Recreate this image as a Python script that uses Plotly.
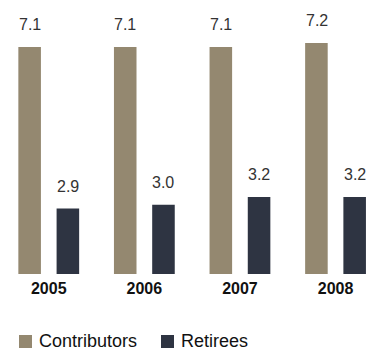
import plotly.graph_objects as go

years = ["2005", "2006", "2007", "2008"]
contributors = [7.1, 7.1, 7.1, 7.2]
retirees = [2.9, 3.0, 3.2, 3.2]

series_names = ["Contributors", "Retirees"]
series_colors = ["#948870", "#2e3442"]
label_shift = [-19, 19]  # pixel offset of each value label from the group centre

FONT = "Liberation Sans, Arial, sans-serif"
W, H = 369, 352
M_TOP, M_BOT = 20, 78
PLOT_H = H - M_TOP - M_BOT

fig = go.Figure()
for name, vals, color in zip(series_names, [contributors, retirees], series_colors):
    fig.add_trace(go.Bar(
        x=years, y=vals, name=name,
        marker=dict(color=color, line=dict(width=0)),
        showlegend=False,
    ))

# Value labels above each bar (x given as category index)
for vals, dx in zip([contributors, retirees], label_shift):
    for i, v in enumerate(vals):
        fig.add_annotation(
            x=i, y=v, xref="x", yref="y", text=f"{v:.1f}",
            showarrow=False, xshift=dx, yshift=12, yanchor="bottom",
            font=dict(size=16, color="#333333", family=FONT),
        )

# Legend row under the axis: square swatch + label per series
legend_y = -(341 - (H - M_BOT)) / PLOT_H
legend_x = [19, 161]
for name, color, lx in zip(series_names, series_colors, legend_x):
    fig.add_shape(
        type="rect", xref="paper", yref="paper",
        xsizemode="pixel", ysizemode="pixel",
        xanchor=0, yanchor=legend_y,
        x0=lx, x1=lx + 13, y0=-7, y1=6,
        fillcolor=color, line=dict(width=0),
    )
    fig.add_annotation(
        x=(lx + 19) / W, y=legend_y, xref="paper", yref="paper",
        text=name, showarrow=False, xanchor="left", yanchor="middle",
        borderpad=0,
        font=dict(size=18, color="#111111", family=FONT),
    )

fig.update_layout(
    width=W, height=H,
    margin=dict(l=0, r=0, t=M_TOP, b=M_BOT),
    paper_bgcolor="white", plot_bgcolor="white",
    barmode="group", bargap=0.2, bargroupgap=0.41,
    font=dict(family=FONT, color="#111111"),
    xaxis=dict(
        type="category", range=[-0.51, 3.35],
        showline=False, showgrid=False, zeroline=False, ticks="",
        ticklabelstandoff=3,
        tickfont=dict(size=16, color="#111111", family=FONT, weight="bold"),
    ),
    yaxis=dict(range=[1.2, 7.8], visible=False, showgrid=False, zeroline=False),
)

fig.write_html("out.html")
